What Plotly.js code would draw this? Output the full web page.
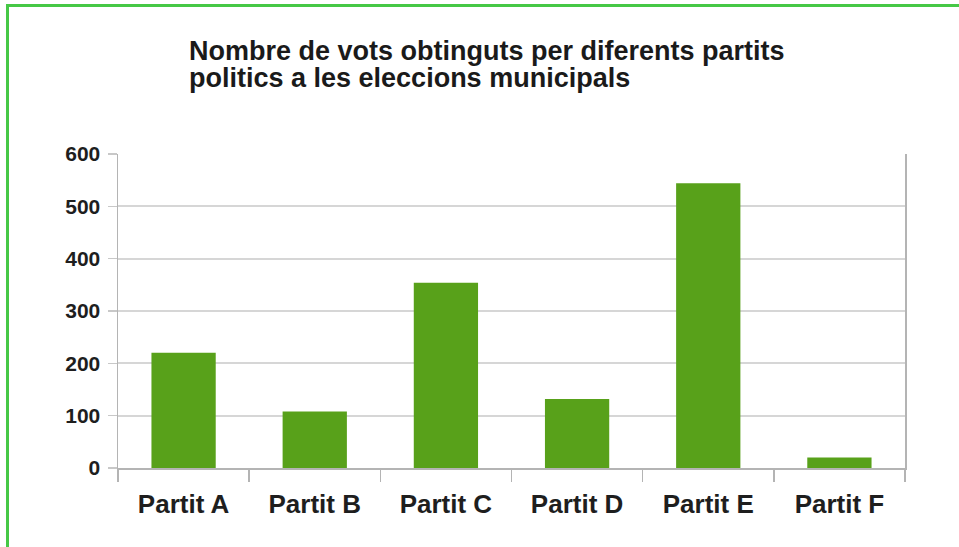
<!DOCTYPE html>
<html>
<head>
<meta charset="utf-8">
<script src="https://cdn.plot.ly/plotly-3.0.1.min.js"></script>
<style>
  html, body { margin: 0; padding: 0; background: #ffffff; }
  #wrap { position: relative; width: 959px; height: 547px; overflow: hidden; }
  #chart { position: absolute; left: 0; top: 0; width: 959px; height: 547px; }
  #frame { position: absolute; left: 6px; top: 4px; width: 1000px; height: 600px;
           border-left: 3px solid #46c846; border-top: 3px solid #46c846; pointer-events: none; }
</style>
</head>
<body>
<div id="wrap">
  <div id="chart"></div>
  <div id="frame"></div>
</div>
<script>
const categories = ["Partit A", "Partit B", "Partit C", "Partit D", "Partit E", "Partit F"];
const votes = [220, 108, 354, 132, 544, 20];
const yTicks = [0, 100, 200, 300, 400, 500, 600];
const titleLines = ["Nombre de vots obtinguts per diferents partits", "politics a les eleccions municipals"];

const fontFam = "Liberation Sans, Arial, sans-serif";

const trace = {
  type: "bar",
  x: categories,
  y: votes,
  marker: { color: "#58a11a", line: { width: 0 } },
  hoverinfo: "x+y"
};

const layout = {
  width: 959,
  height: 547,
  margin: { l: 118, r: 54, t: 154, b: 79 },
  paper_bgcolor: "#ffffff",
  plot_bgcolor: "#ffffff",
  showlegend: false,
  bargap: 0.51,
  title: {
    text: titleLines.map(t => '<span style="font-size:27px">' + t + '</span>').join("<br>"),
    font: { family: fontFam, size: 21, color: "#1a1a1a", weight: "bold" },
    xref: "container", x: 189 / 959, xanchor: "left",
    yref: "container", y: 1 - 60 / 547, yanchor: "top"
  },
  xaxis: {
    type: "category",
    showline: true, linecolor: "#b4b4b4", linewidth: 1.5,
    ticks: "outside", tickson: "boundaries", ticklen: 12, tickcolor: "#b4b4b4", tickwidth: 1.5,
    ticklabelstandoff: 12,
    tickfont: { family: fontFam, size: 26, color: "#1e1e1e", weight: "bold" },
    showgrid: false, zeroline: false, fixedrange: true
  },
  yaxis: {
    range: [0, 600],
    tickvals: yTicks,
    ticktext: yTicks.map(String),
    showline: true, mirror: true, linecolor: "#b4b4b4", linewidth: 1.5,
    ticks: "outside", ticklen: 9, tickcolor: "#c8c8c8", tickwidth: 1.5,
    ticklabelstandoff: 3,
    showgrid: true, gridcolor: "#d6d6d6", gridwidth: 2,
    zeroline: false,
    tickfont: { family: fontFam, size: 21, color: "#1e1e1e", weight: "bold" },
    fixedrange: true
  }
};

Plotly.newPlot("chart", [trace], layout, { displayModeBar: false, staticPlot: true });
</script>
</body>
</html>
